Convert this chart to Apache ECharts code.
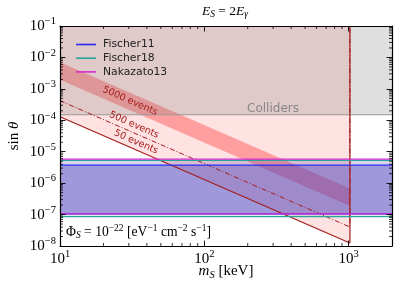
<!DOCTYPE html>
<html><head><meta charset="utf-8">
<script src="https://cdn.jsdelivr.net/npm/echarts@6/dist/echarts.min.js"></script>
<style>html,body{margin:0;padding:0;background:#fff}#c{width:399px;height:293px}</style>
</head><body><div id="c"></div>
<script>
// ---------- data ----------
const xRange = [10, 2000];
const yRange = [1e-8, 1e-1];
const thresholdMass = 1022;          // keV, m_S = 2 m_e
const colliderLimit = 1.5e-4;
const events50 = [[10, 1.3e-4], [1022, 1.24e-8], [1022, 1e-1]];
const events500 = [[10, 4.2e-4], [1022, 4.02e-8], [1022, 1e-1]];
const band5000Upper = [[10, 7.0e-3], [1022, 6.7e-7]];
const band5000Lower = [[10, 1.95e-3], [1022, 1.87e-7]];
const fischer11 = [3.74e-6, 1.05e-7];   // [top, bottom]
const fischer18 = [5.3e-6, 8.6e-8];
const nakazato13 = [5.8e-6, 1.05e-7];
const xMajorTicks = [10, 100, 1000];
const yMajorTicks = [1e-8, 1e-7, 1e-6, 1e-5, 1e-4, 1e-3, 1e-2, 1e-1];
const minorMantissas = [2, 3, 4, 5, 6, 7, 8, 9];
const legendNames = ['Fischer11', 'Fischer18', 'Nakazato13'];
const eventLabels = ['5000 events', '500 events', '50 events'];

// ---------- helpers ----------
const SERIF = 'Liberation Serif';
const SANS = 'DejaVu Sans';
const DARKRED = '#a51c1c';
const xMinorTicks = [];
xMajorTicks.forEach(d => minorMantissas.forEach(m => { if (m * d < xRange[1]) xMinorTicks.push(m * d); }));
const yMinorTicks = [];
yMajorTicks.slice(0, -1).forEach(d => minorMantissas.forEach(m => yMinorTicks.push(m * d)));

function powLabel(v) {
  const l = Math.log10(v), e = Math.round(l);
  if (Math.abs(l - e) > 1e-6) return '';
  return '{b|10}{s|' + (e < 0 ? '\u2212' + (-e) : e) + '}';
}
const labelRich = {
  b: {fontFamily: SERIF, fontSize: 15, lineHeight: 20, color: '#000'},
  s: {fontFamily: SERIF, fontSize: 10.5, lineHeight: 11, verticalAlign: 'top', color: '#000'}
};

function polygonSeries(points, fill, z) {
  return {
    type: 'custom', coordinateSystem: 'cartesian2d', silent: true, clip: true, z: z,
    data: [points[0]],
    renderItem: (params, api) => ({
      type: 'polygon',
      shape: {points: points.map(p => api.coord(p))},
      style: {fill: fill}
    })
  };
}
function bandPolygon(tb) {
  return [[xRange[0], tb[0]], [xRange[1], tb[0]], [xRange[1], tb[1]], [xRange[0], tb[1]]];
}
function hLine(name, value, color) {
  return {
    name: name, type: 'line', symbol: 'none', silent: true, z: 6,
    data: [[xRange[0], value], [xRange[1], value]],
    lineStyle: {color: color, width: 1.3}, itemStyle: {color: color}
  };
}

const pinkRegion = events50.slice(0, 2).concat([[thresholdMass, yRange[1]], [xRange[0], yRange[1]]]);
const colliderRegion = [[xRange[0], colliderLimit], [xRange[1], colliderLimit], [xRange[1], yRange[1]], [xRange[0], yRange[1]]];
const band5000 = band5000Upper.concat(band5000Lower.slice().reverse());

const tickSeries = {
  type: 'custom', coordinateSystem: 'cartesian2d', silent: true, clip: false, z: 20,
  data: [[xRange[0], yRange[0]]],
  renderItem: (params, api) => {
    const cs = params.coordSys, ch = [];
    const st = {stroke: '#000', lineWidth: 0.8};
    const add = (x1, y1, x2, y2) => ch.push({type: 'line', shape: {x1, y1, x2, y2}, style: st});
    const bot = cs.y + cs.height, top = cs.y, left = cs.x, right = cs.x + cs.width;
    xMinorTicks.forEach(v => { const x = api.coord([v, yRange[0]])[0]; add(x, bot, x, bot - 3); add(x, top, x, top + 3); });
    yMinorTicks.forEach(v => { const y = api.coord([xRange[0], v])[1]; add(left, y, left + 3, y); add(right, y, right - 3, y); });
    return {type: 'group', children: ch};
  }
};

const axisCommon = {
  type: 'log', logBase: 10, z: 10,
  axisLine: {show: true, onZero: false, lineStyle: {color: '#000', width: 1.2}},
  axisTick: {show: true, inside: true, length: 5.5, lineStyle: {color: '#000', width: 0.9}},
  splitLine: {show: false}
};

const option = {
  animation: false,
  backgroundColor: '#fff',
  grid: {left: 60, right: 7, top: 26, bottom: 47, containLabel: false},
  xAxis: [
    Object.assign({}, axisCommon, {min: xRange[0], max: xRange[1], position: 'bottom',
      axisLabel: {formatter: powLabel, rich: labelRich, margin: 3}}),
    Object.assign({}, axisCommon, {min: xRange[0], max: xRange[1], position: 'top', axisLabel: {show: false}})
  ],
  yAxis: [
    Object.assign({}, axisCommon, {min: yRange[0], max: yRange[1], position: 'left',
      axisLabel: {formatter: powLabel, rich: labelRich, margin: 4}}),
    Object.assign({}, axisCommon, {min: yRange[0], max: yRange[1], position: 'right', axisLabel: {show: false}})
  ],
  legend: {
    data: legendNames, orient: 'vertical', left: 71, top: 33.5,
    itemWidth: 20, itemHeight: 1.6, icon: 'rect', itemGap: 1.7,
    textStyle: {fontFamily: SANS, fontSize: 10.8, color: '#222', lineHeight: 12, padding: [0, 0, 0, 2]}
  },
  series: [
    polygonSeries(pinkRegion, 'rgba(255,0,0,0.115)', 1),
    polygonSeries(band5000, 'rgba(255,0,0,0.3)', 1),
    polygonSeries(colliderRegion, 'rgba(128,128,128,0.25)', 1),
    polygonSeries(bandPolygon(fischer11), 'rgba(60,50,200,0.38)', 2),
    polygonSeries(bandPolygon(fischer18), 'rgba(0,160,150,0.15)', 2),
    polygonSeries(bandPolygon(nakazato13), 'rgba(200,0,200,0.12)', 2),
    {type: 'line', symbol: 'none', silent: true, z: 5, data: [[xRange[0], colliderLimit], [xRange[1], colliderLimit]],
      lineStyle: {color: '#999', width: 1.1}},
    {type: 'line', symbol: 'none', silent: true, z: 5, data: events50, lineStyle: {color: DARKRED, width: 1.2}},
    {type: 'line', symbol: 'none', silent: true, z: 5, data: events500, lineStyle: {color: DARKRED, width: 1, type: [5, 2, 1, 2]}},
    hLine(legendNames[0], fischer11[0], '#2a2af0'), hLine(legendNames[0], fischer11[1], '#2a2af0'),
    hLine(legendNames[1], fischer18[0], '#2aa39c'), hLine(legendNames[1], fischer18[1], '#2aa39c'),
    hLine(legendNames[2], nakazato13[0], '#d42cd0'), hLine(legendNames[2], nakazato13[1], '#d42cd0'),
    tickSeries
  ],
  graphic: [
    {type: 'text', z: 100, style: {x: 225, y: 11, align: 'center', verticalAlign: 'middle',
      text: '{i|E}{sub|S}{r| = 2}{i|E}{sub|\u03b3}',
      rich: {i: {fontFamily: SERIF, fontStyle: 'italic', fontSize: 13.5, lineHeight: 17, fill: '#000'},
             r: {fontFamily: SERIF, fontSize: 13.5, lineHeight: 17, fill: '#000'},
             sub: {fontFamily: SERIF, fontStyle: 'italic', fontSize: 9.5, lineHeight: 9, verticalAlign: 'bottom', fill: '#000'}}}},
    {type: 'text', z: 100, style: {x: 226, y: 271, align: 'center', verticalAlign: 'middle',
      text: '{i|m}{sub|S}{r| [keV]}',
      rich: {i: {fontFamily: SERIF, fontStyle: 'italic', fontSize: 15, lineHeight: 20, fill: '#000'},
             r: {fontFamily: SERIF, fontSize: 15, lineHeight: 20, fill: '#000'},
             sub: {fontFamily: SERIF, fontStyle: 'italic', fontSize: 10.5, lineHeight: 10, verticalAlign: 'bottom', fill: '#000'}}}},
    {type: 'text', z: 100, x: 14, y: 136, rotation: Math.PI / 2, style: {x: 0, y: 0, align: 'center', verticalAlign: 'middle',
      text: '{r|sin }{i|\u03b8}',
      rich: {i: {fontFamily: SERIF, fontStyle: 'italic', fontSize: 15, lineHeight: 20, fill: '#000'},
             r: {fontFamily: SERIF, fontSize: 15, lineHeight: 20, fill: '#000'}}}},
    {type: 'text', z: 100, style: {x: 66, y: 232, align: 'left', verticalAlign: 'middle',
      text: '{r|\u03a6}{sub|S}{r| = 10}{sup|\u221222}{r| [eV}{sup|\u22121}{r| cm}{sup|\u22122}{r| s}{sup|\u22121}{r|]}',
      rich: {r: {fontFamily: SERIF, fontSize: 13.6, lineHeight: 17, fill: '#000'},
             sub: {fontFamily: SERIF, fontStyle: 'italic', fontSize: 9.5, lineHeight: 9, verticalAlign: 'bottom', fill: '#000'},
             sup: {fontFamily: SERIF, fontSize: 9.5, lineHeight: 9, verticalAlign: 'top', fill: '#000'}}}},
    {type: 'text', z: 100, style: {x: 273, y: 109, align: 'center', verticalAlign: 'middle', text: 'Colliders',
      font: '12px "DejaVu Sans"', fill: '#888'}},
    {type: 'text', z: 100, x: 130, y: 101, rotation: -0.412, style: {x: 0, y: 0, align: 'center', verticalAlign: 'middle',
      text: eventLabels[0], font: '9.5px "DejaVu Sans"', fill: DARKRED}},
    {type: 'text', z: 100, x: 134, y: 125, rotation: -0.412, style: {x: 0, y: 0, align: 'center', verticalAlign: 'middle',
      text: eventLabels[1], font: '9.5px "DejaVu Sans"', fill: DARKRED}},
    {type: 'text', z: 100, x: 136, y: 142, rotation: -0.412, style: {x: 0, y: 0, align: 'center', verticalAlign: 'middle',
      text: eventLabels[2], font: '9.5px "DejaVu Sans"', fill: DARKRED}}
  ]
};
const chart = echarts.init(document.getElementById('c'), null, {renderer: 'canvas', width: 399, height: 293});
chart.setOption(option);
</script></body></html>
